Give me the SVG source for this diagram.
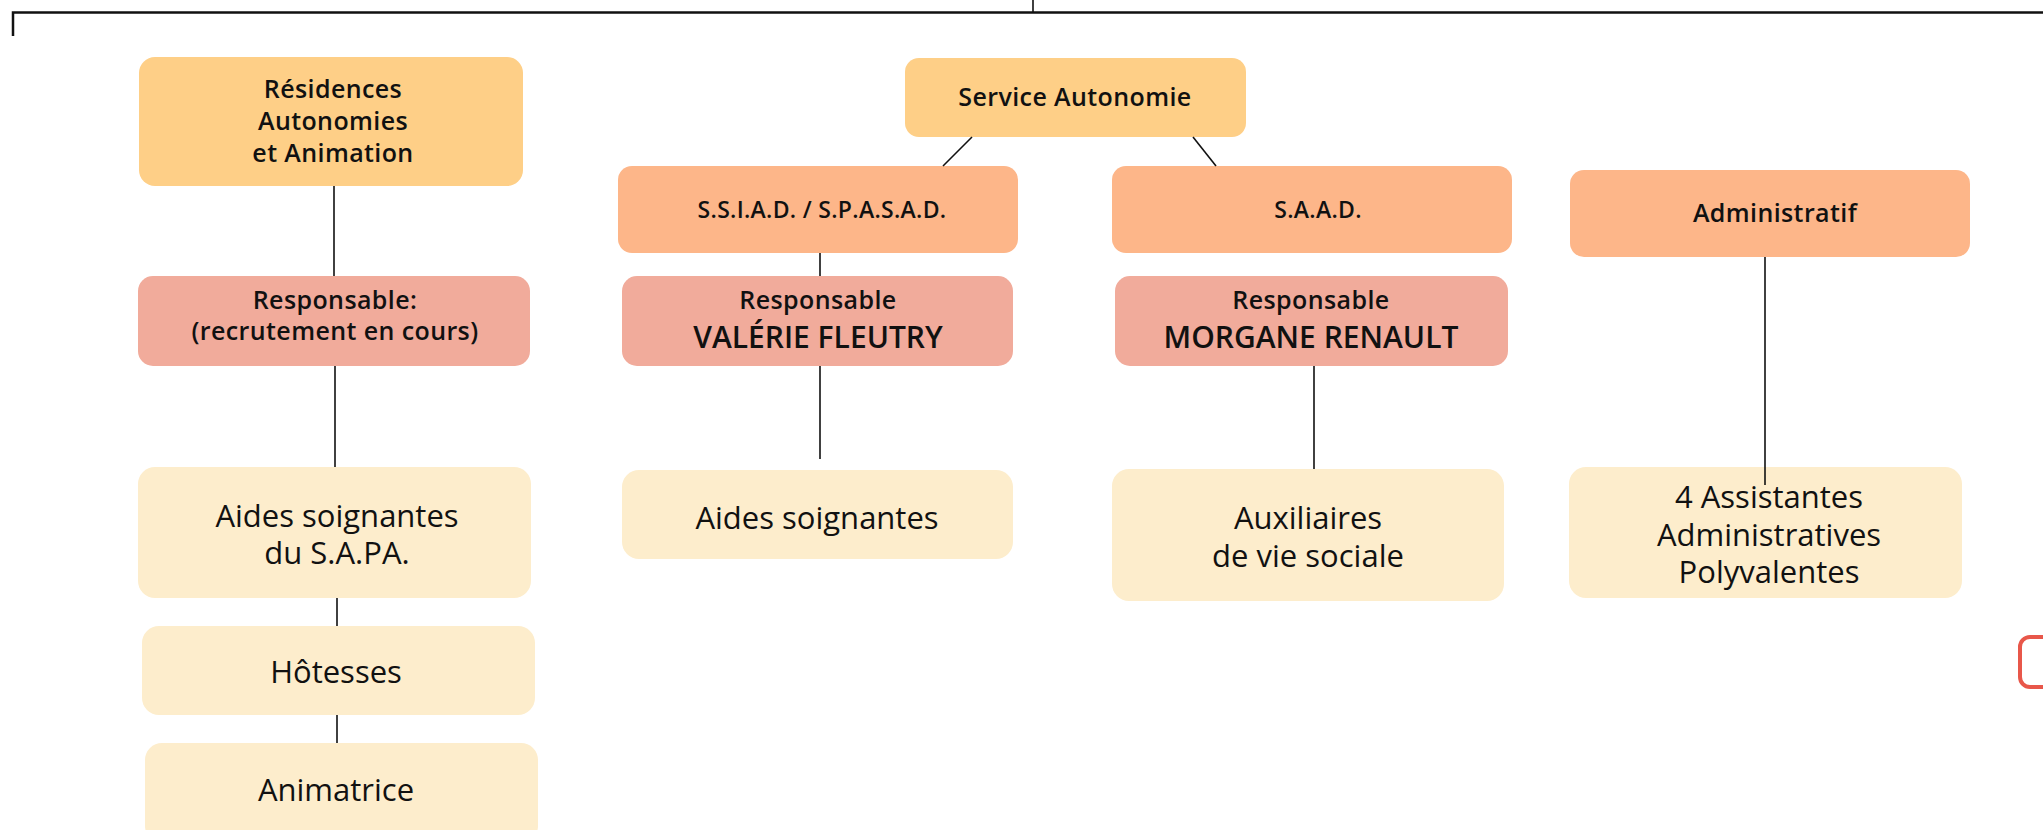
<svg xmlns="http://www.w3.org/2000/svg" width="2043" height="830" viewBox="0 0 2043 830">
<style>
.b{font-family:"Open Sans","Noto Sans",sans-serif;font-weight:600;fill:#111;text-anchor:middle;font-size:25px;letter-spacing:0.4px}
.n{font-size:30px;letter-spacing:0}
.s{font-size:23px;letter-spacing:0.3px}
.r{font-family:"Open Sans","Noto Sans",sans-serif;font-weight:400;fill:#111;text-anchor:middle;font-size:31px}
.c1{fill:#FECF87}
.c2{fill:#FDB689}
.c3{fill:#F1AB9B}
.c4{fill:#FDEDCC}
.ln{stroke:#111;stroke-width:1.6;fill:none}
</style>
<rect width="2043" height="830" fill="#fff"/>
<g id="residences"><rect class="c1" x="139" y="57" width="384" height="129" rx="16"/>
<text class="b"><tspan x="333" y="98">Résidences</tspan><tspan x="333" y="130">Autonomies</tspan><tspan x="333" y="162">et Animation</tspan></text></g>
<g id="service-autonomie"><rect class="c1" x="905" y="58" width="341" height="79" rx="14"/>
<text class="b" x="1075" y="106">Service Autonomie</text></g>
<g id="ssiad"><rect class="c2" x="618" y="166" width="400" height="87" rx="14"/>
<text class="b s" x="822" y="218">S.S.I.A.D. / S.P.A.S.A.D.</text></g>
<g id="saad"><rect class="c2" x="1112" y="166" width="400" height="87" rx="14"/>
<text class="b s" x="1318" y="218">S.A.A.D.</text></g>
<g id="administratif"><rect class="c2" x="1570" y="170" width="400" height="87" rx="14"/>
<text class="b" x="1775" y="222">Administratif</text></g>
<g id="resp1"><rect class="c3" x="138" y="276" width="392" height="90" rx="15"/>
<text class="b"><tspan x="335" y="309">Responsable:</tspan><tspan x="335" y="340">(recrutement en cours)</tspan></text></g>
<g id="resp2"><rect class="c3" x="622" y="276" width="391" height="90" rx="15"/>
<text class="b" x="818" y="309">Responsable</text>
<text class="b n" x="818" y="348">VALÉRIE FLEUTRY</text></g>
<g id="resp3"><rect class="c3" x="1115" y="276" width="393" height="90" rx="15"/>
<text class="b" x="1311" y="309">Responsable</text>
<text class="b n" x="1311" y="348">MORGANE RENAULT</text></g>
<g id="aides-sapa"><rect class="c4" x="138" y="467" width="393" height="131" rx="17"/>
<text class="r"><tspan x="337" y="527">Aides soignantes</tspan><tspan x="337" y="564">du S.A.PA.</tspan></text></g>
<g id="hotesses"><rect class="c4" x="142" y="626" width="393" height="89" rx="17"/>
<text class="r" x="336" y="683">Hôtesses</text></g>
<g id="animatrice"><rect class="c4" x="145" y="743" width="393" height="100" rx="17"/>
<text class="r" x="336" y="801">Animatrice</text></g>
<g id="aides-ssiad"><rect class="c4" x="622" y="470" width="391" height="89" rx="17"/>
<text class="r" x="817" y="529">Aides soignantes</text></g>
<g id="auxiliaires"><rect class="c4" x="1112" y="469" width="392" height="132" rx="17"/>
<text class="r"><tspan x="1308" y="529">Auxiliaires</tspan><tspan x="1308" y="567">de vie sociale</tspan></text></g>
<g id="assistantes"><rect class="c4" x="1569" y="467" width="393" height="131" rx="17"/>
<text class="r"><tspan x="1769" y="508">4 Assistantes</tspan><tspan x="1769" y="546">Administratives</tspan><tspan x="1769" y="583">Polyvalentes</tspan></text></g>
<g id="connectors">
<path d="M13 36 V12.5 H2043" style="stroke:#111;stroke-width:2.5;fill:none"/>
<path class="ln" d="M1033 0 V12"/>
<path class="ln" d="M334 186 V276"/>
<path class="ln" d="M335 366 V467"/>
<path class="ln" d="M337 598 V626"/>
<path class="ln" d="M337 715 V743"/>
<path class="ln" d="M972 137 L943 166"/>
<path class="ln" d="M1193 137 L1216 166"/>
<path class="ln" d="M820 253 V276"/>
<path class="ln" d="M820 366 V459"/>
<path class="ln" d="M1314 366 V469"/>
<path class="ln" d="M1765 257 V485"/>
</g>
<rect x="2020" y="637" width="60" height="50" rx="10" fill="none" stroke="#E8574A" stroke-width="4"/>
</svg>
